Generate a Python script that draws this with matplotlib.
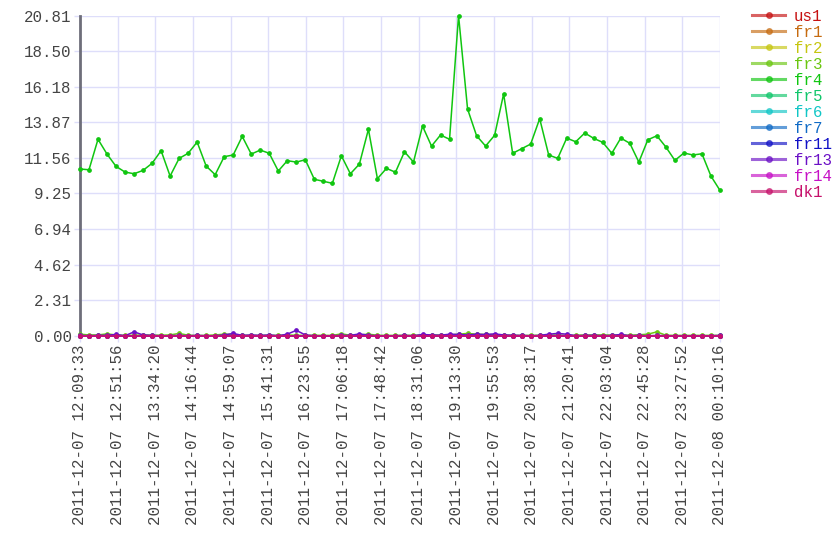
import colorsys
import numpy as np
import matplotlib
matplotlib.use("Agg")
import matplotlib.pyplot as plt

## Data (one sample roughly every 10 minutes)
series_names = ["us1", "fr1", "fr2", "fr3", "fr4", "fr5", "fr6", "fr7",
                "fr11", "fr13", "fr14", "dk1"]

fr4 = [10.84, 10.79, 12.77, 11.81, 11.01, 10.64, 10.53, 10.75, 11.21, 12.03,
       10.38, 11.53, 11.86, 12.59, 11.03, 10.47, 11.64, 11.75, 12.96, 11.81,
       12.07, 11.86, 10.71, 11.38, 11.29, 11.44, 10.17, 10.04, 9.91, 11.70,
       10.53, 11.16, 13.42, 10.21, 10.88, 10.63, 11.96, 11.29, 13.63, 12.33,
       13.05, 12.77, 20.808, 14.74, 13.00, 12.33, 13.03, 15.72, 11.86, 12.16,
       12.46, 14.11, 11.75, 11.53, 12.85, 12.61, 13.18, 12.83, 12.57, 11.86,
       12.85, 12.51, 11.29, 12.74, 13.00, 12.27, 11.40, 11.88, 11.75, 11.83,
       10.38, 9.45]

fr3 = [0.10, 0.05, 0.05, 0.12, 0.05, 0.02, 0.03, 0.05, 0.04, 0.03,
       0.05, 0.15, 0.03, 0.02, 0.02, 0.05, 0.10, 0.08, 0.03, 0.02,
       0.02, 0.03, 0.02, 0.05, 0.03, 0.02, 0.03, 0.02, 0.02, 0.12,
       0.03, 0.05, 0.10, 0.03, 0.02, 0.02, 0.03, 0.02, 0.05, 0.05,
       0.04, 0.05, 0.10, 0.15, 0.10, 0.08, 0.06, 0.05, 0.03, 0.02,
       0.02, 0.03, 0.04, 0.05, 0.02, 0.03, 0.05, 0.05, 0.05, 0.04,
       0.05, 0.03, 0.06, 0.10, 0.25, 0.03, 0.02, 0.02, 0.02, 0.02,
       0.02, 0.02]

fr13 = [0.02, 0.0, 0.02, 0.03, 0.08, 0.0, 0.25, 0.05, 0.02, 0.0,
        0.0, 0.02, 0.0, 0.02, 0.0, 0.0, 0.05, 0.15, 0.02, 0.05,
        0.02, 0.05, 0.0, 0.10, 0.35, 0.05, 0.0, 0.0, 0.0, 0.02,
        0.02, 0.12, 0.03, 0.0, 0.0, 0.0, 0.02, 0.0, 0.08, 0.05,
        0.03, 0.10, 0.08, 0.05, 0.10, 0.08, 0.12, 0.05, 0.03, 0.02,
        0.0, 0.02, 0.10, 0.15, 0.10, 0.0, 0.02, 0.03, 0.0, 0.02,
        0.08, 0.0, 0.02, 0.0, 0.02, 0.0, 0.0, 0.0, 0.0, 0.0,
        0.0, 0.02]

flat = [0.0] * len(fr4)

values = {name: flat for name in series_names}
values["fr3"] = fr3
values["fr4"] = fr4
values["fr13"] = fr13

x_labels = ["2011-12-07 12:09:33", "2011-12-07 12:51:56", "2011-12-07 13:34:20",
            "2011-12-07 14:16:44", "2011-12-07 14:59:07", "2011-12-07 15:41:31",
            "2011-12-07 16:23:55", "2011-12-07 17:06:18", "2011-12-07 17:48:42",
            "2011-12-07 18:31:06", "2011-12-07 19:13:30", "2011-12-07 19:55:53",
            "2011-12-07 20:38:17", "2011-12-07 21:20:41", "2011-12-07 22:03:04",
            "2011-12-07 22:45:28", "2011-12-07 23:27:52", "2011-12-08 00:10:16"]

## Style
font = "Liberation Mono"
grid_col = "#dedefa"
n = len(fr4)
x = np.arange(n)

# one hue every 30 degrees
colors = [colorsys.hls_to_rgb(i / 12.0, 0.42, 0.85) for i in range(len(series_names))]

fig = plt.figure(figsize=(8.4, 5.6), dpi=100)
ax = fig.add_axes([0.0952, 0.4005, 0.7619, 0.5715])

for name, col in zip(series_names, colors):
    ax.plot(x, values[name], color=col, lw=1.1, marker="o", ms=2.4,
            mec=col, mfc=col, label=name, zorder=3, clip_on=False)

ymax = max(fr4)
yticks = np.linspace(0, ymax, 10)
ax.set_ylim(0, ymax)
ax.set_yticks(yticks)
ax.set_yticklabels(["%.2f" % v for v in yticks], family=font, fontsize=11.3,
                   color="#444444")

ax.set_xlim(0, n - 1)
xticks = np.linspace(0, n - 1, len(x_labels))
ax.set_xticks(xticks)
ax.set_xticklabels(x_labels, rotation=90, family=font, fontsize=11.3,
                   color="#444444")

ax.grid(True, color=grid_col, lw=1.0, zorder=0)
ax.tick_params(axis="both", length=4, width=1, color=grid_col, pad=2)
for side in ["top", "right", "bottom"]:
    ax.spines[side].set_visible(False)
ax.spines["left"].set_color("#6e6e7a")
ax.spines["left"].set_linewidth(2)
ax.set_axisbelow(True)

leg = fig.legend(loc="upper left", bbox_to_anchor=(0.888, 0.996), frameon=False,
                 prop={"family": font, "size": 11.3}, handlelength=2.1,
                 handletextpad=0.55, labelspacing=0.065, borderaxespad=0)
for line in leg.get_lines():
    line.set_linewidth(2.2)
    line.set_alpha(0.65)
    line.set_markersize(4)
for text, col in zip(leg.get_texts(), colors):
    text.set_color(col)

fig.savefig("out.png", dpi=100)
